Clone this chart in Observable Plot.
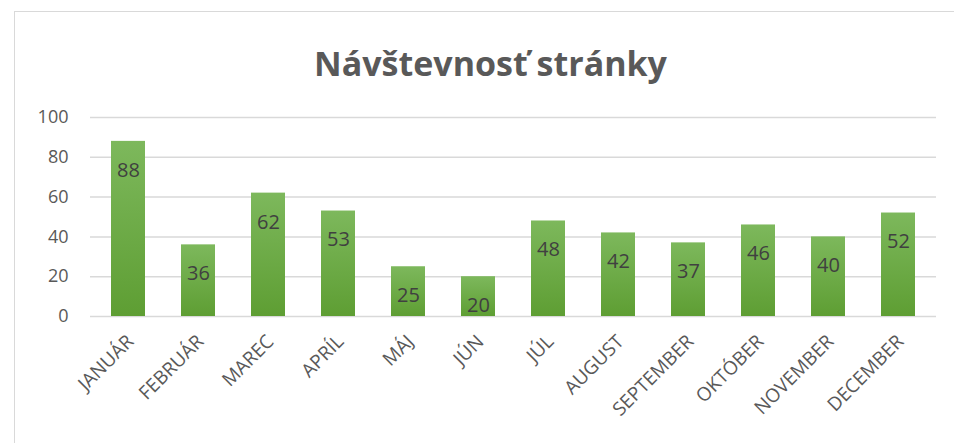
<!DOCTYPE html>
<html><head><meta charset="utf-8">
<script src="https://cdn.jsdelivr.net/npm/d3@7"></script>
<script src="https://cdn.jsdelivr.net/npm/@observablehq/plot@0.6"></script>
<style>
body{margin:0;background:#fff;overflow:hidden;}
#wrap{position:relative;width:954px;height:443px;}
#frame{position:absolute;left:14px;top:11px;width:960px;height:460px;border:1px solid #d9d9d9;box-sizing:border-box;}
#chart{position:absolute;left:0;top:0;}
</style></head>
<body><div id="wrap"><div id="frame"></div><div id="chart"></div></div>
<script>
const title = "Návštevnosť stránky";
const months = ["JANUÁR","FEBRUÁR","MAREC","APRÍL","MÁJ","JÚN","JÚL","AUGUST","SEPTEMBER","OKTÓBER","NOVEMBER","DECEMBER"];
const visits = [88,36,62,53,25,20,48,42,37,46,40,52];
const yTicks = [0,20,40,60,80,100];

const data = months.map((m,i)=>({month:m, value:visits[i]}));
const font = "'Open Sans', sans-serif";

const chart = Plot.plot({
  width:954, height:443,
  marginLeft:90, marginRight:18, marginTop:117, marginBottom:127,
  style:{fontFamily:font, background:"transparent"},
  x:{domain:months, paddingInner:0.517, paddingOuter:0.26, label:null},
  y:{domain:[0,100], label:null},
  marks:[
    Plot.gridY(yTicks,{stroke:"#d9d9d9", strokeOpacity:1, strokeWidth:1.5}),
    Plot.axisY(yTicks,{tickSize:0, tickPadding:22, fontSize:18, fill:"#595959", label:null}),
    Plot.axisX({tickSize:0, tickRotate:-45, tickPadding:12, dy:10, dx:2, fontSize:19, fill:"#595959", label:null}),
    Plot.barY(data,{x:"month", y:"value", fill:"url(#barGrad)", style:"filter:drop-shadow(1px 1px 2px rgba(0,0,0,0.3))"}),
    Plot.text(data,{x:"month", y:"value", text:d=>String(d.value), dy:29, fill:"#404040", fontSize:20}),
    Plot.text([title],{frameAnchor:"top", dx:-23, dy:-66, text:d=>d, fontSize:34, fontWeight:"bold", fill:"#595959"})
  ]
});
const svg = d3.select(chart);
const defs = svg.insert("defs",":first-child");
const g = defs.append("linearGradient").attr("id","barGrad").attr("x1",0).attr("y1",0).attr("x2",0).attr("y2",1);
g.append("stop").attr("offset","0%").attr("stop-color","#7db85c");
g.append("stop").attr("offset","100%").attr("stop-color","#5e9e33");
document.getElementById("chart").appendChild(chart);
</script></body></html>
